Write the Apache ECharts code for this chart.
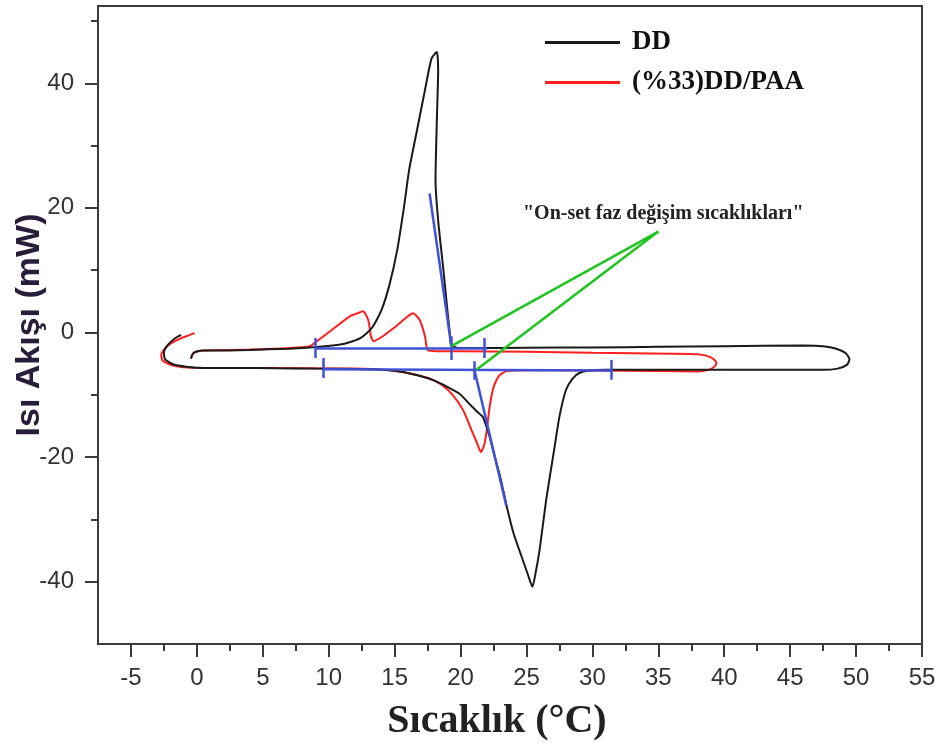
<!DOCTYPE html>
<html>
<head>
<meta charset="utf-8">
<script src="https://cdn.jsdelivr.net/npm/echarts@6/dist/echarts.min.js"></script>
<style>
  html, body { margin: 0; padding: 0; background: #fff; }
  #chart { width: 944px; height: 754px; }
</style>
</head>
<body>
<div id="chart"></div>
<script>
// DD sample: heating (lower line) then cooling (upper line)
const ddTemp = [-1.2, -1.7, -2.2, -2.5, -2.4, -1.8, -0.8, 0.5, 3, 6, 9, 12, 14, 15.4, 16.8, 17.9, 18.8, 19.9, 20.6, 21.2, 21.7, 22.2, 22.6, 23.0, 23.5, 24.0, 24.7, 25.1, 25.45, 25.7, 26.0, 26.5, 27.1, 27.5, 28.0, 28.5, 29.0, 29.8, 31, 35, 40, 45, 47.5, 48.6, 49.3, 49.5, 49.2, 48.5, 47.5, 46, 40, 35, 30, 25, 21, 19.8, 19.3, 19.2, 19.0, 18.7, 18.3, 18.1, 18.2, 18.3, 18.2, 17.8, 17.3, 16.7, 16.1, 15.7, 15.2, 14.6, 14.0, 13.3, 12.4, 11.2, 9.3, 7, 4, 1.5, 0.5, 0.0, -0.3, -0.45];
const ddFlow = [-0.4, -1.0, -2.0, -3.2, -4.3, -5.1, -5.5, -5.7, -5.7, -5.75, -5.8, -5.85, -6.0, -6.25, -6.9, -7.6, -8.5, -9.8, -11.3, -12.6, -13.6, -16.7, -20, -23.1, -27.9, -32.1, -36.4, -38.8, -40.8, -38.5, -34.8, -26.8, -18.8, -13.5, -9.2, -7.4, -6.5, -6.1, -6.0, -6.0, -6.0, -6.0, -6.0, -5.8, -5.2, -4.3, -3.3, -2.6, -2.2, -2.1, -2.2, -2.3, -2.4, -2.45, -2.5, -2.5, -2.0, -0.4, 3.6, 10, 18, 24.4, 34, 42, 45.0, 44.0, 38.9, 32.5, 26.1, 20.0, 13.3, 7.6, 3.6, 0.8, -0.9, -1.8, -2.3, -2.6, -2.8, -2.9, -2.9, -3.05, -3.4, -4.2];

// (%33)DD/PAA sample
const paaTemp = [-0.17, -0.8, -1.6, -2.3, -2.7, -2.6, -2.0, -1.0, 0.5, 4, 8, 12, 14, 16, 17.5, 18.5, 19.4, 20.2, 20.8, 21.2, 21.55, 21.8, 22.0, 22.2, 22.5, 22.9, 23.5, 25, 30, 35, 38, 38.8, 39.3, 39.4, 39.0, 38.0, 36, 30, 25, 20, 18.2, 17.5, 17.3, 16.9, 16.4, 16.0, 15.1, 14.1, 13.4, 13.2, 13.0, 12.6, 12.2, 11.6, 10.6, 9.1, 8.55, 7.0, 4, 1.5, 0.5, 0.0, -0.3, -0.45];
const paaFlow = [-0.1, -0.6, -1.3, -2.3, -3.5, -4.5, -5.2, -5.6, -5.7, -5.7, -5.75, -5.8, -5.95, -6.5, -7.3, -8.3, -10.0, -12.5, -15.5, -17.5, -19.2, -18.0, -15.5, -12, -8.8, -7.0, -6.2, -6.05, -6.1, -6.2, -6.25, -6.0, -5.4, -4.8, -4.0, -3.5, -3.4, -3.25, -3.1, -3.0, -3.0, -2.8, -0.6, 2.0, 3.1, 2.6, 1.0, -0.6, -1.4, -0.6, 2.0, 3.4, 3.1, 2.6, 1.0, -1.4, -2.2, -2.5, -2.75, -2.85, -2.9, -3.05, -3.4, -4.2];

// onset construction lines (blue) and pointer lines (green)
const onsetLines = [
  [[9.0, -2.5], [22.0, -2.5]],
  [[9.55, -5.9], [31.45, -6.1]],
  [[17.65, 22.3], [19.3, -2.2]],
  [[21.05, -6.0], [23.48, -27.9]]
];
const onsetMarks = [
  [[9.0, -0.9], [9.0, -4.1]],
  [[19.3, -0.6], [19.3, -4.4]],
  [[21.8, -0.9], [21.8, -4.1]],
  [[9.55, -4.1], [9.55, -7.3]],
  [[21.05, -4.6], [21.05, -7.6]],
  [[31.45, -4.4], [31.45, -7.6]]
];
const pointerLines = [
  [[35.0, 16.2], [19.3, -2.2]],
  [[35.0, 16.2], [21.2, -6.0]]
];

const xMajor = [-5, 0, 5, 10, 15, 20, 25, 30, 35, 40, 45, 50, 55];
const xMinor = [-2.5, 2.5, 7.5, 12.5, 17.5, 22.5, 27.5, 32.5, 37.5, 42.5, 47.5, 52.5];
const yMajor = [-40, -20, 0, 20, 40];
const yMinor = [-30, -10, 10, 30, 50];

const zip = (xs, ys) => xs.map((x, i) => [x, ys[i]]);

const chart = echarts.init(document.getElementById('chart'));

const axisLineStyle = { color: '#3a3a3a', width: 2 };
const labelStyle = { fontFamily: 'Liberation Sans', fontSize: 24, color: '#333' };

chart.setOption({
  animation: false,
  backgroundColor: '#fff',
  grid: {
    left: 98, right: 22, top: 6, bottom: 110,
    outerBoundsMode: 'none',
    show: true, borderColor: '#3a3a3a', borderWidth: 2
  },
  legend: {
    data: ['DD', '(%33)DD/PAA'],
    orient: 'vertical',
    left: 540, top: 24,
    icon: 'rect',
    itemWidth: 75, itemHeight: 3,
    itemGap: 13,
    textStyle: {
      fontFamily: 'Liberation Serif', fontWeight: 'bold', fontSize: 27,
      color: '#111', padding: [0, 0, 0, 7]
    }
  },
  xAxis: [{
    type: 'value', min: -7.5, max: 55, interval: 2.5,
    axisLine: { onZero: false, lineStyle: axisLineStyle },
    axisTick: { customValues: xMajor, length: 13, lineStyle: axisLineStyle },
    axisLabel: Object.assign({ customValues: xMajor, margin: 22 }, labelStyle),
    splitLine: { show: false },
    name: 'Sıcaklık (°C)',
    nameLocation: 'middle', nameGap: 58, nameMoveOverlap: false,
    nameTextStyle: {
      fontFamily: 'Liberation Serif', fontWeight: 'bold', fontSize: 40,
      color: '#222', padding: [0, 26, 0, 0]
    }
  }, {
    type: 'value', min: -7.5, max: 55, interval: 2.5, position: 'bottom',
    axisLine: { show: false, onZero: false },
    axisTick: { customValues: xMinor, length: 7, lineStyle: axisLineStyle },
    axisLabel: { show: false },
    splitLine: { show: false }
  }],
  yAxis: [{
    type: 'value', min: -50, max: 52.4, interval: 10,
    axisLine: { show: true, onZero: false, lineStyle: axisLineStyle },
    axisTick: { show: true, customValues: yMajor, length: 13, lineStyle: axisLineStyle },
    axisLabel: Object.assign({ customValues: yMajor, margin: 24 }, labelStyle),
    splitLine: { show: false },
    name: 'Isı Akışı (mW)',
    nameLocation: 'middle', nameGap: 51, nameRotate: 90, nameMoveOverlap: false,
    nameTextStyle: {
      fontFamily: 'Liberation Sans', fontWeight: 'bold', fontSize: 34,
      color: '#2a1d3a'
    }
  }, {
    type: 'value', min: -50, max: 52.4, interval: 10, position: 'left',
    axisLine: { show: false, onZero: false },
    axisTick: { show: true, customValues: yMinor, length: 7, lineStyle: axisLineStyle },
    axisLabel: { show: false },
    splitLine: { show: false }
  }],
  graphic: [{
    type: 'text', left: 523, top: 204,
    style: {
      text: '"On-set faz değişim sıcaklıkları"',
      font: 'bold 20px "Liberation Serif"',
      fill: '#222'
    }
  }],
  series: [{
    name: 'DD', type: 'line',
    data: zip(ddTemp, ddFlow),
    showSymbol: false, smooth: 0.2,
    lineStyle: { color: '#1a1a1a', width: 2 },
    itemStyle: { color: '#1a1a1a' },
    z: 3
  }, {
    name: '(%33)DD/PAA', type: 'line',
    data: zip(paaTemp, paaFlow),
    showSymbol: false, smooth: 0.2,
    lineStyle: { color: '#ff1f1f', width: 2 },
    itemStyle: { color: '#ff1f1f' },
    z: 2
  }, {
    type: 'lines', coordinateSystem: 'cartesian2d',
    data: onsetLines.concat(onsetMarks).map(c => ({ coords: c })),
    lineStyle: { color: '#3f51d6', width: 2.5, opacity: 1 },
    z: 4
  }, {
    type: 'lines', coordinateSystem: 'cartesian2d',
    data: pointerLines.map(c => ({ coords: c })),
    lineStyle: { color: '#1fc41f', width: 2.5, opacity: 1 },
    z: 5
  }]
});
</script>
</body>
</html>
